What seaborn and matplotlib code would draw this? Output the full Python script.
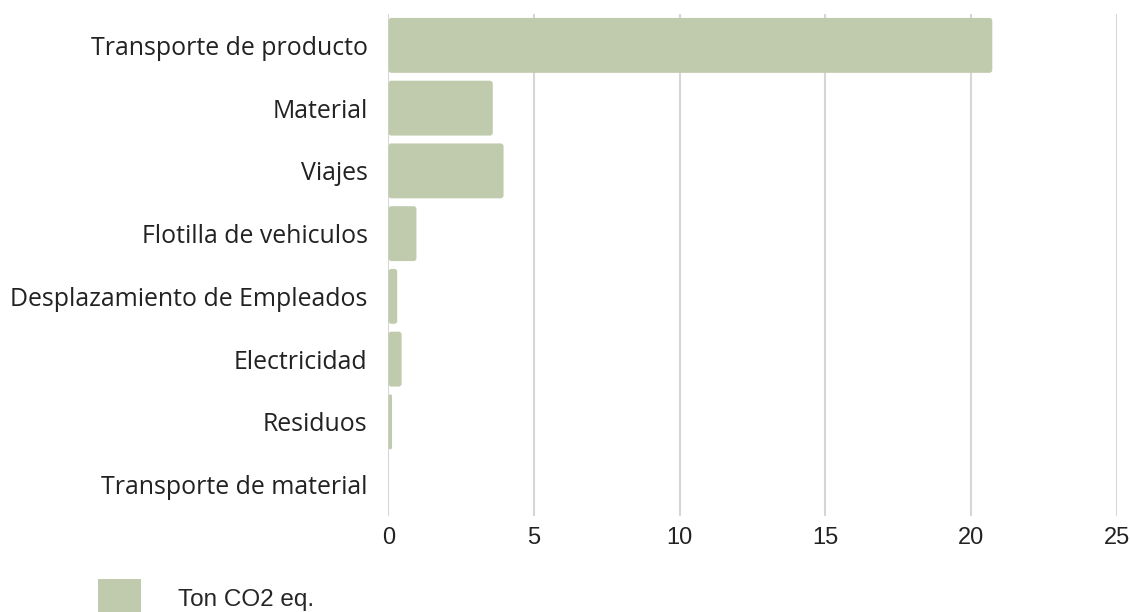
import matplotlib
matplotlib.use("Agg")
import matplotlib.pyplot as plt
from matplotlib.patches import FancyBboxPatch
import seaborn as sns
import pandas as pd

sns.set_theme(style="white")

# Datos
categorias = ["Transporte de producto", "Material", "Viajes", "Flotilla de vehiculos",
              "Desplazamiento de Empleados", "Electricidad", "Residuos",
              "Transporte de material"]
ton_co2 = [20.73, 3.58, 3.95, 0.96, 0.30, 0.45, 0.12, 0.0]
ticks_x = [0, 5, 10, 15, 20, 25]
serie = "Ton CO2 eq."
color_barra = "#c0cbad"

df = pd.DataFrame({"categoria": categorias, "valor": ton_co2})

fig = plt.figure(figsize=(11.3, 6.12), dpi=100)
ax = fig.add_axes([0.3438, 0.1569, 0.6444, 0.8202])

sns.barplot(data=df, x="valor", y="categoria", color=color_barra, saturation=1,
            width=0.875, label=serie, linewidth=0, ax=ax)

ax.set_xlim(0, 25)
ax.set_xticks(ticks_x)
ax.set_xlabel("")
ax.set_ylabel("")
ax.grid(axis="x", color="#d6d6d6", linewidth=1.5)
ax.set_axisbelow(True)
for s in ax.spines.values():
    s.set_visible(False)
ax.tick_params(axis="both", length=0)
ax.tick_params(axis="x", pad=8)
ax.tick_params(axis="y", pad=15)
for lbl in ax.get_xticklabels():
    lbl.set_fontfamily(["Liberation Sans Narrow", "Liberation Sans"])
    lbl.set_fontsize(17)
    lbl.set_color("#222222")
for lbl in ax.get_yticklabels():
    lbl.set_fontfamily("Open Sans")
    lbl.set_fontsize(17.9)
    lbl.set_color("#222222")

if ax.legend_:
    ax.legend_.remove()
h, l = ax.get_legend_handles_labels()

# esquinas redondeadas en las barras
for p in list(ax.patches):
    x0, y0 = p.get_x(), p.get_y()
    w, hgt = p.get_width(), p.get_height()
    p.remove()
    if w <= 0:
        continue
    r = min(0.1, w / 2)
    ax.add_patch(FancyBboxPatch((x0, y0), w, hgt,
                                boxstyle=f"round,pad=0,rounding_size={r}",
                                mutation_aspect=0.46, facecolor=color_barra,
                                edgecolor="none", zorder=2))

fig.legend(h, l, loc="center left", bbox_to_anchor=(0.0673, 0.0225), frameon=False,
           handlelength=1.77, handleheight=2.0, handletextpad=1.52, borderpad=0.4,
           prop={"family": "Liberation Sans", "size": 17.5})

fig.savefig("out.png", dpi=100)
